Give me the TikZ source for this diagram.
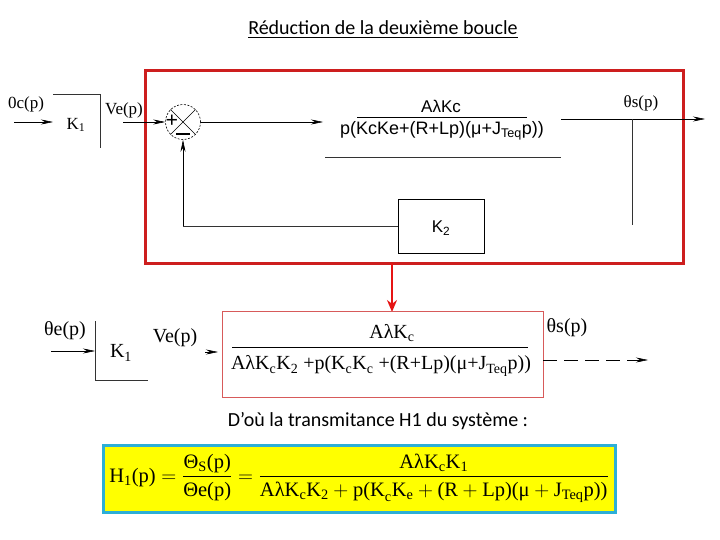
\documentclass[tikz,border=0pt]{standalone}
\usepackage{amsmath}
\usepackage{fontspec}
\setmainfont{Liberation Serif}
\newfontfamily\arialf{Liberation Sans}
\newfontfamily\calib{Carlito}
\usepackage{tikz}
\usetikzlibrary{arrows.meta,calc}
\definecolor{boxred}{RGB}{205,30,30}
\definecolor{thinred}{RGB}{215,90,90}
\definecolor{arrred}{RGB}{230,20,20}
\definecolor{eqcyan}{RGB}{45,175,215}
\definecolor{eqyellow}{RGB}{255,255,0}

\begin{document}
\begin{tikzpicture}[x=1pt,y=-1pt,
    sig/.style={-{Stealth[length=12pt,width=5pt]},line width=0.6pt},
    wire/.style={line width=0.6pt,black!80},
    tms/.style={inner sep=0pt,font=\fontsize{17}{19}\selectfont},
    tmsb/.style={inner sep=0pt,font=\fontsize{20}{22}\selectfont},
    ari/.style={inner sep=0pt,font=\arialf\fontsize{17}{19}\selectfont},
    cal/.style={inner sep=0pt,font=\calib\fontsize{20}{22}\selectfont}]
  \useasboundingbox (0,0) rectangle (720,540);
  % Title
  \node[cal] (title) at (383,30) {\underline{Réduction de la deuxième boucle}};

  % Coordinates (upper diagram)
  \coordinate (ka) at (53,94);
  \coordinate (kb) at (100,94);
  \coordinate (kc) at (100,148);
  \coordinate (inA) at (14,122);
  \coordinate (veA) at (123,122);
  \coordinate (gin) at (323,122);
  \coordinate (gl) at (325,157);
  \coordinate (gr) at (561,157);
  \coordinate (oa) at (561,119);
  \coordinate (ob) at (705,119);
  \coordinate (pa) at (632,119);
  \coordinate (pb) at (632,225);
  \coordinate (fb) at (183,226);

  % Red frame
  \draw[boxred,line width=3pt] (145,71) rectangle (683,263);

  % K1 block
  \draw[wire] (ka)--(kb)--(kc);
  \node[tms] (thetac) at (26,104) {0c(p)};
  \draw[sig] (inA)--(ka|-inA);
  \node[tms] (kun) at (76,125) {K\textsubscript{1}};
  \node[tms] (veup) at (124,110) {Ve(p)};

  % Summation
  \node[circle,draw,dash pattern=on 2pt off 1.5pt,line width=0.6pt,minimum size=35pt,inner sep=0pt] (sum) at (183,122) {};
  \draw[line width=0.4pt] (sum.north west)--(sum.south east);
  \draw[line width=0.4pt] (sum.north east)--(sum.south west);
  \node[font=\fontsize{22}{22}\selectfont\bfseries,inner sep=0pt] (plus) at (172,121) {+};
  \draw[line width=1.8pt] (176,134)--(190,134);
  \draw[sig] (veA)--(sum.west);
  \draw[sig] (sum.east)--(gin);

  % Forward transfer function
  \node[ari] (numA) at (441,106) {AλKc};
  \draw[line width=0.6pt] (357,117)--(527,117);
  \node[ari,font=\arialf\fontsize{18}{19}\selectfont] (denA) at (442,131) {p(KcKe+(R+Lp)(μ+J\textsubscript{Teq}p))};
  \draw[wire] (gl)--(gr);
  \draw[sig] (oa)--(ob);
  \draw[wire] (pa)--(pb);
  \node[tms] (thetas) at (641,103) {θs(p)};

  % Feedback K2
  \node[draw,line width=0.6pt,minimum width=86pt,minimum height=54pt] (kdeux) at (441,226) {};
  \node[ari] at (441,228) {K\textsubscript{2}};
  \draw[wire] (kdeux.west)--(fb);
  \draw[sig] (fb)--(sum.south);

  % Red reduction arrow
  \draw[arrred,line width=2.5pt,-{Stealth[length=12pt,width=10pt]}] (392,263)--(392,312);

  % Lower diagram
  \coordinate (kd) at (95,321);
  \coordinate (ke) at (95,380);
  \coordinate (kf) at (148,380);
  \coordinate (inB) at (51,351);
  \node[tmsb] (thetae) at (65,331) {θe(p)};
  \draw[sig] (inB)--(kd|-inB);
  \draw[wire] (kd)--(ke)--(kf);
  \node[tmsb] (kunb) at (121,353) {K\textsubscript{1}};
  \node[tmsb] (velow) at (175,338) {Ve(p)};
  \draw[sig] (205,352)--(218,352);
  \draw[thinred,line width=0.8pt] (222,311) rectangle (543,397);
  \node[tmsb] (numB) at (392,333) {AλK\textsubscript{c}};
  \draw[line width=0.6pt] (232,347)--(528,347);
  \node[tmsb] (denB) at (381,366) {AλK\textsubscript{c}K\textsubscript{2} +p(K\textsubscript{c}K\textsubscript{c} +(R+Lp)(μ+J\textsubscript{Teq}p))};
  \node[tmsb] (thetasb) at (567,328) {θs(p)};
  \draw[sig,dash pattern=on 14pt off 7pt] (543,360)--(648,360);

  % Result
  \node[cal] (dou) at (378,421) {D’où la transmitance H1 du système :};
  \draw[eqcyan,line width=3pt,fill=eqyellow] (103,445) rectangle (615,512);
  \node[inner sep=0pt,font=\fontsize{20.5}{22}\selectfont] (eq) at (359,478)
    {$\text{H}_{\text{1}}\text{(p)} = \dfrac{\text{Θ}_{\text{S}}\text{(p)}}{\text{Θe(p)}} = \dfrac{\text{AλK}_{\text{c}}\text{K}_{\text{1}}}{\text{AλK}_{\text{c}}\text{K}_{\text{2}} + \text{p(K}_{\text{c}}\text{K}_{\text{e}} + \text{(R} + \text{Lp)(μ} + \text{J}_{\text{Teq}}\text{p))}}$};
\end{tikzpicture}
\end{document}
